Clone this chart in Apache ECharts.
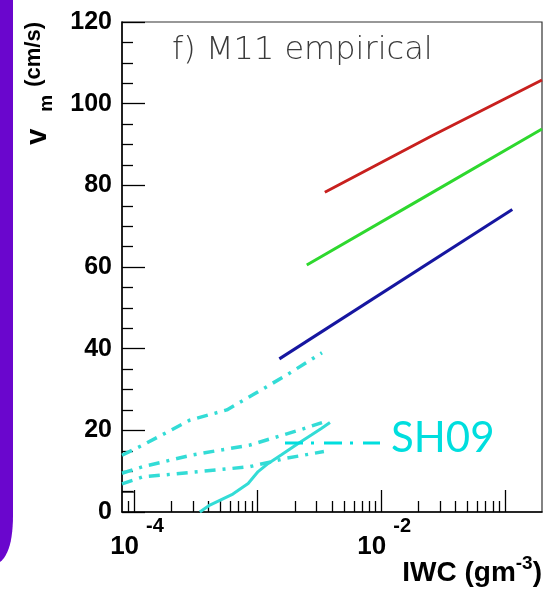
<!DOCTYPE html>
<html>
<head>
<meta charset="utf-8">
<script src="https://cdn.jsdelivr.net/npm/echarts@6/dist/echarts.min.js"></script>
<style>
html,body{margin:0;padding:0;background:#fff;}
#chart{width:552px;height:591px;}
</style>
</head>
<body>
<div id="chart"></div>
<script>
// ---- data (IWC in g m^-3, vm in cm/s) ----
var redX = [3.5e-3, 2.6e-2, 0.2];
var redY = [78.3, 92.2, 105.8];
var greenX = [2.5e-3, 2.06e-2, 0.2];
var greenY = [60.5, 76.5, 93.8];
var blueX = [1.5e-3, 0.115];
var blueY = [37.5, 74.1];
var cyanSolidX = [3.41e-4, 4.11e-4, 6.31e-4, 8.39e-4, 1.01e-3, 1.22e-3, 1.56e-3, 2.13e-3, 2.74e-3, 3.30e-3, 3.85e-3];
var cyanSolidY = [0, 1.7, 4.4, 7.0, 9.9, 11.9, 14.0, 16.8, 18.9, 20.5, 21.9];
var cyanUpperX = [8e-5, 1.18e-4, 2.83e-4, 5.64e-4, 9.16e-4, 1.73e-3, 3.32e-3];
var cyanUpperY = [13.9, 16.4, 22.5, 25.0, 28.7, 33.6, 39.0];
var cyanMidX = [8e-5, 1.18e-4, 2.99e-4, 8.67e-4, 2.2e-3, 3.32e-3];
var cyanMidY = [9.5, 11.1, 14.0, 16.4, 20.1, 21.9];
var cyanLowX = [8e-5, 1.18e-4, 3.41e-4, 8.67e-4, 1.73e-3, 3.44e-3];
var cyanLowY = [6.9, 8.6, 9.9, 11.1, 13.2, 14.8];

var xMin = 8e-5, xMax = 0.2;
var xMajorTicks = [1e-4, 1e-3, 1e-2, 1e-1];
var xLabelTicks = [1e-4, 1e-2];
var xMinorTicks = [9e-5,
  2e-4, 3e-4, 4e-4, 5e-4, 6e-4, 7e-4, 8e-4, 9e-4,
  2e-3, 3e-3, 4e-3, 5e-3, 6e-3, 7e-3, 8e-3, 9e-3,
  2e-2, 3e-2, 4e-2, 5e-2, 6e-2, 7e-2, 8e-2, 9e-2];

function zip(xs, ys) { return xs.map(function (x, i) { return [x, ys[i]]; }); }

var chart = echarts.init(document.getElementById('chart'), null, {renderer: 'canvas'});
var FONT = 'Liberation Sans';
var cyan = '#33dcd6';

function lineSeries(xs, ys, color, type, width) {
  return {
    type: 'line', data: zip(xs, ys), showSymbol: false, symbol: 'none',
    xAxisIndex: 0, yAxisIndex: 0, clip: true,
    lineStyle: {color: color, width: width || 3, type: type || 'solid', cap: 'butt'},
    silent: true
  };
}

// purple side-bar outline (decoration): straight edge then a rounded lower corner
var barPts = [[0, 0], [13, 0], [13, 515]];
for (var k = 1; k <= 12; k++) {
  var t = k / 12;
  var qx = (1 - t) * (1 - t) * 13 + 2 * (1 - t) * t * 13 + t * t * 0;
  var qy = (1 - t) * (1 - t) * 515 + 2 * (1 - t) * t * 552 + t * t * 562;
  barPts.push([qx, qy]);
}

var dashDot = [11, 7, 3, 7];

var option = {
  animation: false,
  backgroundColor: '#fff',
  grid: {left: 122, top: 22, right: 10, bottom: 79, show: true, borderColor: '#333', borderWidth: 1.2, backgroundColor: 'transparent'},
  xAxis: [{
    type: 'log', logBase: 10, min: xMin, max: xMax, position: 'bottom',
    axisLine: {show: true, onZero: false, lineStyle: {color: '#000', width: 1.5}},
    axisTick: {show: true, inside: true, length: 22, customValues: xMajorTicks, lineStyle: {color: '#000', width: 1.3}},
    minorTick: {show: false},
    splitLine: {show: false},
    axisLabel: {
      show: true, customValues: xLabelTicks, margin: 4,
      formatter: function (v) { return '{b|10}{s|' + Math.round(Math.log10(v)) + '}'; },
      rich: {
        b: {fontFamily: FONT, fontWeight: 'bold', fontSize: 26, color: '#000', lineHeight: 26, padding: [18, 0, 0, 6], verticalAlign: 'top'},
        s: {fontFamily: FONT, fontWeight: 'bold', fontSize: 20, color: '#000', lineHeight: 22, padding: [0, 0, 0, 7], verticalAlign: 'top'}
      }
    }
  }, {
    type: 'log', logBase: 10, min: xMin, max: xMax, position: 'bottom',
    axisLine: {show: false, onZero: false},
    axisTick: {show: true, inside: true, length: 11, customValues: xMinorTicks, lineStyle: {color: '#000', width: 1.3}},
    axisLabel: {show: false},
    splitLine: {show: false}
  }],
  yAxis: {
    type: 'value', min: 0, max: 120, interval: 20,
    axisLine: {show: true, onZero: false, lineStyle: {color: '#000', width: 1.5}},
    axisTick: {show: true, inside: true, length: 23, lineStyle: {color: '#000', width: 1.3}},
    minorTick: {show: true, splitNumber: 4, length: 11, lineStyle: {color: '#000', width: 1.3}},
    splitLine: {show: false},
    minorSplitLine: {show: false},
    axisLabel: {fontFamily: FONT, fontWeight: 'bold', fontSize: 25, color: '#000', margin: 10}
  },
  series: [
    lineSeries(redX, redY, '#c8201e'),
    lineSeries(greenX, greenY, '#2ed82e'),
    lineSeries(blueX, blueY, '#1616a0'),
    lineSeries(cyanSolidX, cyanSolidY, cyan, 'solid', 3),
    lineSeries(cyanUpperX, cyanUpperY, cyan, dashDot, 3.5),
    lineSeries(cyanMidX, cyanMidY, cyan, dashDot, 3.5),
    lineSeries(cyanLowX, cyanLowY, cyan, dashDot, 3.5)
  ],
  graphic: [
    {type: 'polygon', shape: {points: barPts}, style: {fill: '#6a06cd'}, z: 10},
    {type: 'polyline', shape: {points: [[122, 492], [134, 492]]}, style: {stroke: '#000', lineWidth: 1.3}, z: 10},
    {type: 'text', x: 172, y: 51, z: 10,
      style: {text: 'f) M11 empirical', fontFamily: 'DejaVu Sans', fontWeight: 200, fontSize: 32, fill: '#3a3a3a', align: 'left', verticalAlign: 'middle'}},
    {type: 'text', x: 51, y: 22, rotation: Math.PI / 2, z: 10,
      style: {
        text: '{v|v}{m|m}{t|(cm/s)}', align: 'right', verticalAlign: 'bottom',
        rich: {
          v: {fontFamily: FONT, fontWeight: 'bold', fontSize: 29, fill: '#000', lineHeight: 28, padding: [0, 17, 0, 0], verticalAlign: 'top'},
          m: {fontFamily: FONT, fontWeight: 'bold', fontSize: 19, fill: '#000', lineHeight: 20, padding: [14, 8, 0, 0], verticalAlign: 'top'},
          t: {fontFamily: FONT, fontWeight: 'bold', fontSize: 22, fill: '#000', lineHeight: 28, verticalAlign: 'top'}
        }
      }},
    {type: 'text', x: 542, y: 582, z: 10,
      style: {
        text: '{t|IWC (gm}{s|-3}{t|)}', align: 'right', verticalAlign: 'bottom',
        rich: {
          t: {fontFamily: FONT, fontWeight: 'bold', fontSize: 28, fill: '#000', lineHeight: 28, padding: [5, 0, 0, 0], verticalAlign: 'top'},
          s: {fontFamily: FONT, fontWeight: 'bold', fontSize: 19, fill: '#000', lineHeight: 20, verticalAlign: 'top'}
        }
      }},
    {type: 'polyline', shape: {points: [[285, 443], [380, 443]]}, z: 10,
      style: {stroke: '#00dede', lineWidth: 3, lineDash: [18, 8, 3, 10]}},
    {type: 'text', x: 391, y: 438, z: 10,
      style: {text: 'SH09', fontFamily: 'Lato', fontSize: 42, fill: '#00dede', align: 'left', verticalAlign: 'middle'}}
  ]
};
chart.setOption(option);
</script>
</body>
</html>
